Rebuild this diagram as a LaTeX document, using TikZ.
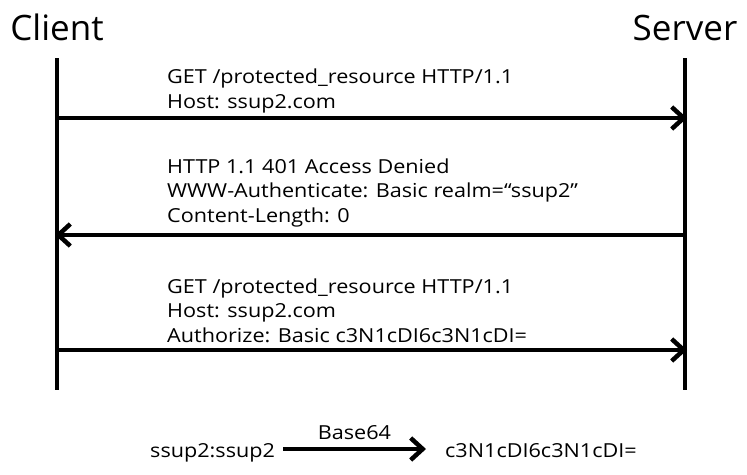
\documentclass[tikz,border=0pt]{standalone}
\usepackage{fontspec}
\setmainfont{Open Sans}[FakeStretch=1.12]
\newfontfamily\actorfont{Open Sans}
\usetikzlibrary{positioning,arrows.meta}
\tikzset{actor/.style={inner sep=0pt,anchor=base,font=\actorfont\fontsize{35}{40}\selectfont},
	 msg/.style={inner sep=0pt,anchor=base west,align=left,font=\fontsize{19.3}{24.5}\selectfont},
	 life/.style={line width=4.5pt},
	 call/.style={line width=4.5pt,-{Straight Barb[length=12pt,width=22pt]}},
	 node distance = 1
	 }
\begin{document}
\begin{tikzpicture}[x=1pt,y=-1pt]
	\useasboundingbox (0,0) rectangle (747,474);
	\node[actor] (client) at (57,40) {Client};
	\node[actor] (server) at (685,40) {Server};
	\coordinate (ctop) at (57,58);
	\coordinate (cbot) at (57,390);
	\coordinate (stop) at (685,58);
	\coordinate (sbot) at (685,390);
	\draw[life] (ctop) -- (cbot);
	\draw[life] (stop) -- (sbot);
	% requests and reply
	\coordinate (c1) at (57,118);
	\coordinate (s1) at (687,118);
	\coordinate (s2) at (685,235);
	\coordinate (c2) at (55,235);
	\coordinate (c3) at (57,350);
	\coordinate (s3) at (687,350);
	\node[msg] (m1) at (167,108) {GET /protected\_resource HTTP/1.1\\Host: ssup2.com};
	\node[msg] (m2) at (167,222) {HTTP 1.1 401 Access Denied\\WWW-Authenticate: Basic realm=“ssup2”\\Content-Length: 0};
	\node[msg] (m3) at (167,342) {GET /protected\_resource HTTP/1.1\\Host: ssup2.com\\Authorize: Basic c3N1cDI6c3N1cDI=};
	\draw[call] (c1) -- (s1);
	\draw[call] (s2) -- (c2);
	\draw[call] (c3) -- (s3);
	% encoding
	\node[msg] (plain) at (150,457) {ssup2:ssup2};
	\node[msg] (coded) at (445,457) {c3N1cDI6c3N1cDI=};
	\coordinate (e1) at (283,449);
	\coordinate (e2) at (426,449);
	\draw[call] (e1) -- node[above=7pt,inner sep=0pt,font=\fontsize{19.3}{24.5}\selectfont] (enc) {Base64} (e2);
\end{tikzpicture}
\end{document}
